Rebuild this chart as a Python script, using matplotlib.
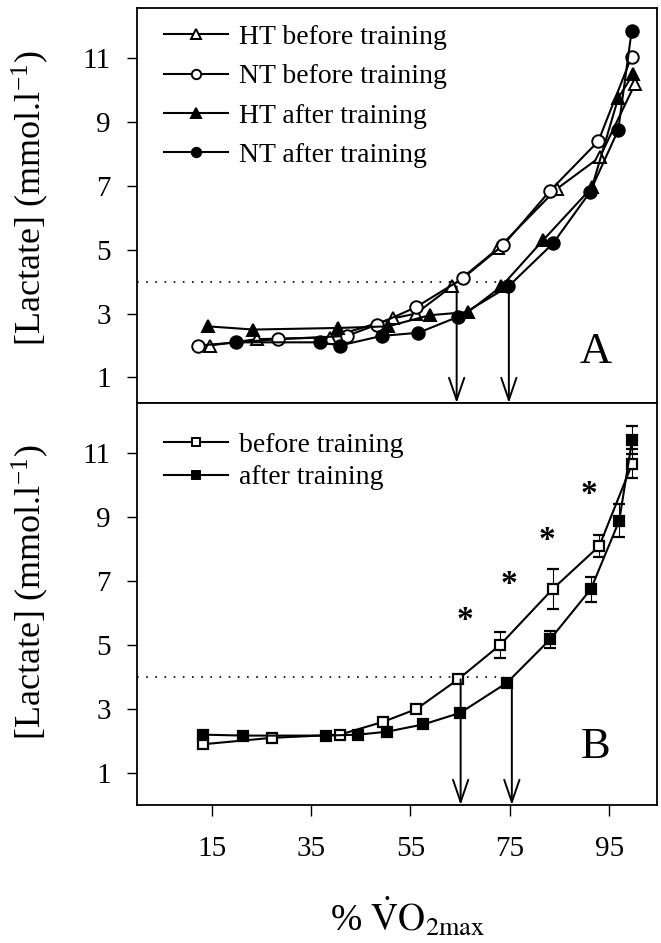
import matplotlib
matplotlib.use("Agg")
import matplotlib.pyplot as plt
from matplotlib.lines import Line2D

plt.rcParams['font.family'] = ['Liberation Serif', 'DejaVu Serif']
plt.rcParams['mathtext.fontset'] = 'stix'

# ---------------- Panel A data ----------------
ht_before_x = [14.7, 24.1, 38.8, 51.5, 56.1, 63.3, 72.7, 84.4, 93.1, 100.2]
ht_before_y = [2.0, 2.2, 2.25, 2.85, 3.0, 3.85, 5.05, 6.9, 7.9, 10.2]
nt_before_x = [12.3, 28.4, 42.2, 48.2, 56.1, 65.5, 73.7, 83.1, 92.8, 99.5]
nt_before_y = [2.0, 2.2, 2.3, 2.65, 3.2, 4.1, 5.15, 6.85, 8.4, 11.05]
ht_after_x = [14.3, 23.4, 40.5, 50.5, 58.9, 66.6, 73.3, 81.7, 91.5, 96.8, 99.8]
ht_after_y = [2.6, 2.5, 2.55, 2.6, 2.95, 3.05, 3.85, 5.3, 6.95, 9.75, 10.5]
nt_after_x = [20.0, 36.8, 40.8, 49.2, 56.6, 64.6, 74.7, 83.7, 91.1, 96.8, 99.5]
nt_after_y = [2.1, 2.1, 2.0, 2.3, 2.4, 2.9, 3.85, 5.2, 6.8, 8.75, 11.85]
labels_A = ["HT before training", "NT before training", "HT after training", "NT after training"]

# ---------------- Panel B data ----------------
b_before_x = [13.3, 27.1, 40.8, 49.5, 56.2, 64.6, 73.0, 83.6, 93.0, 99.6]
b_before_y = [1.9, 2.1, 2.2, 2.6, 3.0, 3.93, 5.0, 6.75, 8.1, 10.67]
b_before_err = [0.05, 0.05, 0.05, 0.1, 0.1, 0.12, 0.4, 0.62, 0.35, 0.45]
b_after_x = [13.3, 21.4, 38.1, 44.5, 50.2, 57.6, 65.0, 74.4, 83.1, 91.3, 97.0, 99.6]
b_after_y = [2.2, 2.17, 2.17, 2.2, 2.29, 2.52, 2.88, 3.82, 5.18, 6.75, 8.89, 11.42]
b_after_err = [0.05, 0.05, 0.05, 0.05, 0.08, 0.08, 0.1, 0.1, 0.26, 0.39, 0.52, 0.43]
labels_B = ["before training", "after training"]
star_x = [66.0, 74.9, 82.4, 91.0]
star_y = [5.76, 6.9, 8.26, 9.7]

# thresholds (arrows) and reference level
thr_A = [(64.3, 3.85), (74.8, 3.85)]
thr_B = [(65.1, 3.93), (75.4, 3.82)]
ref_level = 4.0

xticks = [15, 35, 55, 75, 95]
yticks = [1, 3, 5, 7, 9, 11]

fig = plt.figure(figsize=(6.61, 9.43), dpi=100)
W, H = 661.0, 943.0
axA = fig.add_axes([137 / W, 1 - 403 / H, 520 / W, 395 / H])
axB = fig.add_axes([137 / W, 1 - 805 / H, 520 / W, 402 / H])

lw = 1.5
ms = 9

axA.plot(ht_before_x, ht_before_y, '-^', color='black', mfc='white', mec='black', lw=lw, ms=ms, mew=1.4, label=labels_A[0])
axA.plot(nt_before_x, nt_before_y, '-o', color='black', mfc='white', mec='black', lw=lw, ms=ms, mew=1.4, label=labels_A[1])
axA.plot(ht_after_x, ht_after_y, '-^', color='black', mfc='black', mec='black', lw=lw, ms=ms, mew=1.4, label=labels_A[2])
axA.plot(nt_after_x, nt_after_y, '-o', color='black', mfc='black', mec='black', lw=lw, ms=ms, mew=1.4, label=labels_A[3])

axB.errorbar(b_before_x, b_before_y, yerr=b_before_err, fmt='-s', color='black', mfc='white', mec='black',
             lw=lw, ms=7.5, mew=1.6, elinewidth=0.8, capsize=4, capthick=0.8)
axB.errorbar(b_after_x, b_after_y, yerr=b_after_err, fmt='-s', color='black', mfc='black', mec='black',
             lw=lw, ms=7.5, mew=1.6, elinewidth=0.8, capsize=4, capthick=0.8)
for sx, sy in zip(star_x, star_y):
    axB.text(sx, sy, '*', fontsize=24, fontweight='bold', ha='center', va='center')

for ax, thr, ylo, panel in [(axA, thr_A, 0.2, 'A'), (axB, thr_B, 0.0, 'B')]:
    ax.set_xlim(0, 104.6)
    ax.set_ylim(ylo, 12.57)
    ax.plot([0, max(t[0] for t in thr) - 1.5], [ref_level, ref_level], color='black', lw=1.2,
            linestyle=(0, (1, 4.5)), zorder=1)
    for tx, ty in thr:
        ax.annotate('', xy=(tx, ylo), xytext=(tx, ty),
                    arrowprops=dict(arrowstyle='->, head_length=1.6, head_width=0.55', color='black', lw=1.4,
                                    shrinkA=0, shrinkB=0))
    ax.text(92.2, 1.8, panel, fontsize=32, ha='center', va='center')
    ax.set_yticks(yticks)
    ax.tick_params(axis='y', direction='out', length=7, width=1.0, labelsize=21, pad=12)
    ax.set_ylabel('[Lactate] (mmol.l$^{\\mathregular{-1}}$)', fontsize=26)
    for s in ax.spines.values():
        s.set_linewidth(1.3)
axA.yaxis.set_label_coords(-0.165, 0.52)
axB.yaxis.set_label_coords(-0.165, 0.53)

axA.set_xticks([])
axB.set_xticks(xticks)
axB.tick_params(axis='x', direction='out', length=8, width=1.0, labelsize=21, pad=14)
axB.set_xlabel(r'% $\dot{\mathrm{V}}\mathrm{O}_{\mathrm{2max}}$', fontsize=27)
axB.xaxis.set_label_coords(0.52, -0.225)

legA = axA.legend(loc='upper left', frameon=False, fontsize=20, handlelength=2.3, markerscale=0.75,
                  labelspacing=0.5, handletextpad=0.4, borderaxespad=0.2, bbox_to_anchor=(0.02, 1.0))
hB = [Line2D([], [], color='black', marker='s', mfc='white', mec='black', lw=lw, ms=6, mew=1.4),
      Line2D([], [], color='black', marker='s', mfc='black', mec='black', lw=lw, ms=6, mew=1.4)]
legB = axB.legend(hB, labels_B, loc='upper left', frameon=False, fontsize=20, handlelength=2.3,
                  labelspacing=0.25, handletextpad=0.4, borderaxespad=0.2, bbox_to_anchor=(0.02, 0.968))

fig.savefig('out.png', dpi=100)
